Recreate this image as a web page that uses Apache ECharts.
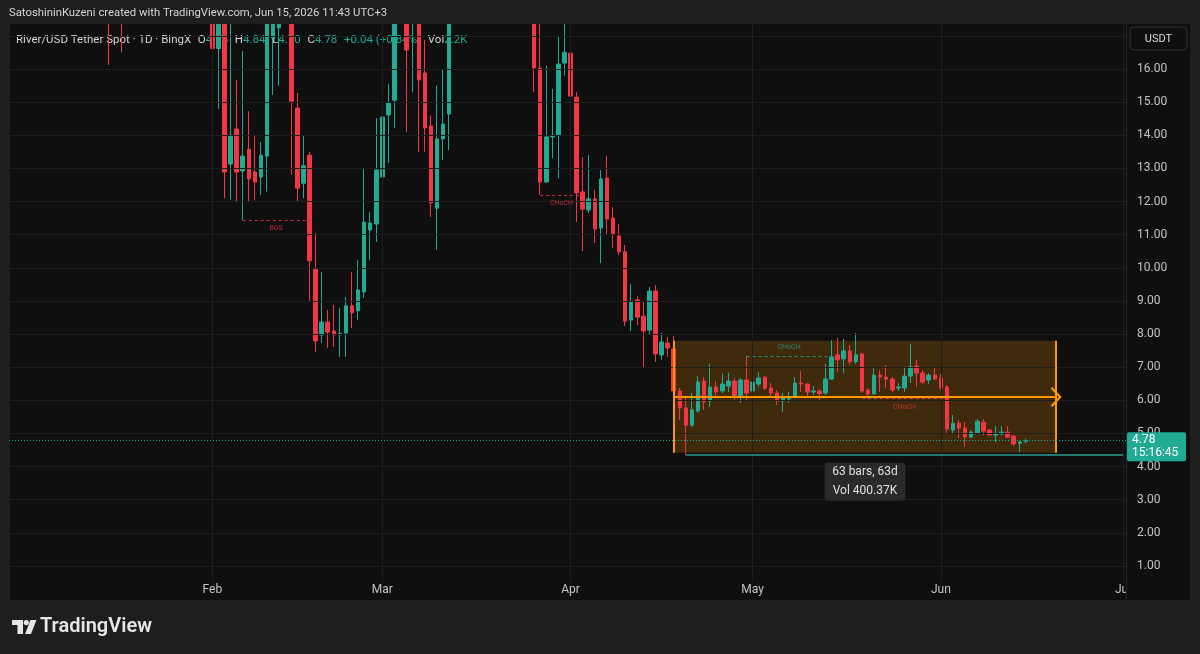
<!DOCTYPE html>
<html>
<head>
<meta charset="utf-8">
<title>River/USD Tether Spot · 1D · BingX</title>
<script src="https://cdn.jsdelivr.net/npm/echarts@6.0.0/dist/echarts.min.js"></script>
<style>
  html, body { margin: 0; padding: 0; background: #1e1e1e; }
  #chart { width: 1200px; height: 654px; }
</style>
</head>
<body>
<div id="chart"></div>
<script>
// time axis: one category per day
const axisStart = "2025-12-30";
const axisDays = 184;
const monthTicks = ["2026-02-01", "2026-03-01", "2026-04-01", "2026-05-01", "2026-06-01", "2026-07-01"];
const monthLabels = ["Feb", "Mar", "Apr", "May", "Jun", "Jul"];
const priceTicks = [1, 2, 3, 4, 5, 6, 7, 8, 9, 10, 11, 12, 13, 14, 15, 16, 17];

// daily candles from Jan 15; anything above ~17.4 is off the top of the view
const firstCandle = "2026-01-15";
const opens = [
  19.2, 18.4, 20.1, 18.9, 21.6, 22.8, 21.5, 20.3, 21.2, 22.4, 20.7, 19.5, 20.2, 19.1, 18.4, 19.0, 18.6,
  18.9, 16.62, 18.2, 13.13, 14.19, 12.92, 13.58, 12.89, 12.74, 13.37, 16.94, 17.24, 17.7, 18.5, 14.82, 12.55, 13.4, 9.96, 7.97, 8.36, 8.09, 7.98, 8.03, 8.85, 8.7, 9.27, 11.14, 11.32,
  12.74, 14.61, 15.06, 17.9, 18.6, 17.6, 18.1, 15.88, 14.28, 11.8, 13.89, 14.64, 17.7, 18.8, 20.1, 19.8, 19.0, 20.5, 21.7, 20.8, 21.1, 22.3, 21.6, 20.4, 19.3, 18.5, 16.03, 12.59, 13.95, 14.0, 16.18,
  16.48, 15.15, 12.29, 11.74, 12.08, 11.2, 12.71, 11.5, 10.96, 10.48, 8.42, 9.03, 8.54, 8.12, 9.3, 7.37, 7.73, 7.55, 6.28, 5.77, 5.25, 5.68, 6.58, 5.98, 6.4, 6.28, 6.43, 6.58, 6.13, 6.61,
  6.28, 6.49, 6.7, 6.37, 6.22, 5.98, 6.04, 6.1, 6.52, 6.49, 6.25, 6.28, 6.22, 6.64, 7.37, 7.25, 7.49, 7.16, 7.4, 6.31, 6.19, 6.76, 6.7, 6.64, 6.37, 6.37, 6.73, 7.04, 6.82, 6.61, 6.76,
  6.67, 6.4, 5.1, 5.31, 5.16, 4.89, 5.01, 5.34, 5.1, 4.95, 4.98, 5.04, 4.92, 4.7, 4.76
];
const highs = [
  20.5, 21.0, 20.8, 22.4, 23.5, 24.1, 22.9, 21.7, 23.0, 22.9, 21.4, 20.8, 20.9, 19.9, 19.6, 19.8, 19.3,
  19.4, 18.6, 18.5, 17.6, 15.67, 16.54, 14.73, 13.98, 13.8, 18.3, 18.4, 18.0, 18.9, 18.8, 15.28, 14.0, 13.5, 11.05, 9.87, 8.73, 8.88, 8.79, 9.12, 9.87, 10.23, 13.0, 11.68, 14.52,
  16.18, 15.55, 18.2, 19.1, 18.9, 18.5, 18.4, 16.88, 14.6, 15.5, 16.0, 18.0, 19.2, 20.6, 21.3, 20.4, 20.9, 22.2, 22.5, 21.6, 22.8, 23.1, 22.0, 20.9, 19.9, 18.9, 17.6, 16.1, 15.4, 17.0, 17.5,
  16.63, 15.3, 13.34, 13.4, 12.35, 12.95, 13.37, 11.83, 11.32, 10.69, 9.51, 9.15, 8.97, 9.42, 9.48, 8.03, 7.91, 7.94, 6.37, 6.1, 6.22, 6.73, 6.7, 7.1, 6.58, 6.8, 6.83, 6.67, 6.67, 7.34,
  6.85, 6.85, 6.72, 6.52, 6.31, 6.22, 6.25, 6.7, 6.88, 6.5, 6.43, 6.34, 7.1, 7.82, 7.88, 7.85, 7.67, 8.03, 7.43, 6.37, 6.97, 6.91, 7.07, 6.7, 6.52, 7.01, 7.7, 7.22, 6.91, 6.82, 6.97,
  6.79, 6.46, 5.56, 5.4, 5.34, 5.1, 5.43, 5.43, 5.13, 5.22, 5.22, 5.22, 4.95, 4.77, 4.84
];
const lows = [
  16.12, 17.6, 16.5, 18.2, 20.4, 21.0, 19.8, 19.1, 20.6, 20.2, 18.9, 18.6, 18.7, 17.9, 17.8, 18.0, 17.7,
  11.0, 14.8, 12.1, 12.05, 11.98, 11.44, 11.98, 12.05, 12.2, 12.3, 15.22, 15.5, 17.45, 12.8, 11.98, 12.1, 9.0, 7.46, 7.73, 7.58, 7.61, 7.31, 7.31, 8.18, 8.42, 9.09, 10.23, 10.78,
  12.2, 13.16, 14.22, 17.5, 14.1, 15.3, 13.5, 13.5, 11.53, 10.54, 13.25, 13.56, 17.5, 18.3, 19.4, 18.6, 18.7, 20.0, 20.3, 19.5, 20.7, 21.2, 19.9, 18.8, 17.9, 15.3, 12.2, 12.56, 13.3, 12.7, 15.8,
  14.1, 11.38, 10.5, 11.65, 10.75, 10.14, 10.99, 10.6, 10.38, 8.24, 8.09, 8.27, 7.0, 7.97, 7.16, 7.22, 7.31, 6.07, 5.4, 4.35, 5.2, 5.62, 5.71, 5.8, 6.1, 6.22, 6.25, 6.01, 5.92, 6.0,
  6.16, 6.4, 6.31, 6.07, 5.86, 5.65, 5.92, 6.07, 6.25, 6.07, 6.16, 6.0, 6.16, 6.61, 6.85, 6.82, 7.07, 7.1, 6.22, 6.13, 6.19, 6.25, 6.37, 6.25, 6.28, 6.25, 6.52, 6.4, 6.49, 6.49, 6.61,
  6.31, 5.01, 5.01, 4.86, 4.59, 4.86, 4.98, 4.95, 4.92, 4.74, 4.95, 4.86, 4.62, 4.44, 4.70
];
const closes = [
  18.4, 20.1, 18.9, 21.6, 22.8, 21.5, 20.3, 21.2, 22.4, 20.7, 19.5, 20.2, 19.1, 18.4, 19.0, 18.6, 18.9,
  16.62, 18.2, 12.89, 14.0, 12.89, 13.37, 12.68, 12.59, 13.4, 17.9, 17.8, 17.7, 18.5, 15.03, 12.4, 13.08, 10.21, 7.79, 8.36, 8.06, 7.97, 8.02, 8.85, 8.64, 9.33, 11.38, 11.35, 12.95,
  14.55, 14.97, 17.9, 18.6, 16.57, 18.1, 15.67, 14.22, 11.96, 13.89, 14.34, 17.7, 18.8, 20.1, 19.8, 19.0, 20.5, 21.7, 20.8, 21.1, 22.3, 21.6, 20.4, 19.3, 18.5, 16.03, 12.59, 13.95, 14.0, 16.15, 16.5,
  15.18, 12.26, 11.77, 12.08, 11.17, 12.68, 11.47, 11.02, 10.48, 8.39, 8.97, 8.51, 8.09, 9.3, 7.4, 7.76, 7.58, 6.28, 5.77, 5.25, 5.71, 6.55, 5.95, 6.4, 6.25, 6.49, 6.58, 6.13, 6.61, 6.22,
  6.55, 6.67, 6.37, 6.22, 5.98, 6.07, 6.1, 6.52, 6.49, 6.25, 6.28, 6.2, 6.64, 7.31, 7.22, 7.49, 7.16, 7.37, 6.28, 6.19, 6.76, 6.7, 6.64, 6.31, 6.4, 6.73, 7.01, 6.82, 6.55, 6.76, 6.64,
  6.37, 5.13, 5.31, 5.16, 4.89, 5.04, 5.37, 5.07, 4.95, 5.0, 5.04, 4.89, 4.68, 4.74, 4.78
];
const lastVolume = "2.2K";
const countdown = "15:16:45";

// structure marks (BOS / CHoCH)
const structLabels = ["BOS", "CHoCH", "CHoCH", "CHoCH"];
const structFrom = ["2026-02-06", "2026-03-27", "2026-04-30", "2026-05-19"];
const structTo = ["2026-02-17", "2026-04-03", "2026-05-14", "2026-06-02"];
const structPrice = [11.44, 12.2, 7.34, 6.06];
const structBull = [false, false, true, false];

// date & price range tool
const rangeFrom = "2026-04-18";
const rangeTo = "2026-06-20";
const rangeTop = 7.8;
const rangeBottom = 4.42;
const rangeMid = 6.1;
const rangeVolume = "400.37K";

// horizontal ray from the Apr 20 low
const supportFrom = "2026-04-20";
const supportPrice = 4.35;

const upColor = "#22ab94";
const downColor = "#f23645";
const rangeColor = "#ff9800";
const font = "Roboto, 'Noto Sans', sans-serif";

function dayOf(s) {
  return Math.round((Date.parse(s) - Date.parse(axisStart)) / 86400000);
}

let categories = [];
for (let i = 0; i < axisDays; i++) {
  categories.push(new Date(Date.parse(axisStart) + i * 86400000).toISOString().slice(0, 10));
}
const offset = dayOf(firstCandle);
const candles = categories.map(function (d, i) {
  const k = i - offset;
  if (k < 0 || k >= opens.length) return "-";
  return [opens[k], closes[k], lows[k], highs[k]];
});

let markLines = structLabels.map(function (name, n) {
  const col = structBull[n] ? upColor : downColor;
  return [
    {
      coord: [dayOf(structFrom[n]), structPrice[n]],
      lineStyle: { color: col, width: 1, type: [3, 3], opacity: 0.8 },
      label: {
        show: true, formatter: name, color: col, opacity: 0.75, fontSize: 7, fontFamily: font,
        position: structBull[n] ? "insideMiddleTop" : "insideMiddleBottom", distance: 5
      }
    },
    { coord: [dayOf(structTo[n]), structPrice[n]] }
  ];
});

const chevron = "path://M10,0 L20,9 L18.5,10.5 L10,2.8 L1.5,10.5 L0,9 Z";
markLines = markLines.concat([
  [
    { coord: [dayOf(rangeFrom), rangeTop], lineStyle: { color: rangeColor, width: 2, type: "solid" } },
    { coord: [dayOf(rangeFrom), rangeBottom] }
  ],
  [
    { coord: [dayOf(rangeTo), rangeTop], lineStyle: { color: rangeColor, width: 2, type: "solid" } },
    { coord: [dayOf(rangeTo), rangeBottom] }
  ],
  [
    { coord: [dayOf(rangeFrom), rangeMid], lineStyle: { color: rangeColor, width: 2, type: "solid" } },
    { coord: [dayOf(rangeTo), rangeMid], symbol: chevron, symbolSize: [20, 11] }
  ],
  [
    { coord: [dayOf(supportFrom), supportPrice], lineStyle: { color: "#2a9d8f", width: 1.5, type: "solid" } },
    { coord: [axisDays - 1, supportPrice] }
  ],
  {
    yAxis: closes[closes.length - 1],
    lineStyle: { color: upColor, width: 1, type: [1, 2] }
  }
]);

const chart = echarts.init(document.getElementById("chart"));

chart.setOption({
  backgroundColor: "#0f0f0f",
  animation: false,
  grid: { left: 9, right: 74, top: 24, bottom: 72 },
  xAxis: {
    type: "category",
    data: categories,
    boundaryGap: true,
    z: 0,
    axisLine: { show: false },
    axisTick: { show: false },
    splitLine: { show: false },
    axisLabel: {
      color: "#c4c4c4",
      fontSize: 12,
      fontFamily: font,
      margin: 2,
      interval: function (idx, val) { return monthTicks.indexOf(val) >= 0; },
      formatter: function (val) { return monthLabels[monthTicks.indexOf(val)]; }
    }
  },
  yAxis: {
    type: "value",
    position: "right",
    min: 0.515,
    max: 17.358,
    z: 5,
    axisLine: { show: false },
    axisTick: { show: false },
    splitLine: { show: false },
    axisLabel: {
      customValues: priceTicks,
      color: "#c4c4c4",
      fontSize: 12,
      fontFamily: font,
      margin: 11,
      padding: [7, 0, 0, 0],
      formatter: function (v) { return v.toFixed(2); }
    }
  },
  series: [
    {
      // grid lines only
      type: "line",
      data: [],
      z: 1,
      silent: true,
      markLine: {
        silent: true,
        symbol: ["none", "none"],
        label: { show: false },
        lineStyle: { color: "#1e1e1e", width: 1, type: "solid" },
        data: priceTicks.map(function (v) { return { yAxis: v }; })
          .concat(monthTicks.map(function (d) { return { xAxis: dayOf(d) }; }))
      }
    },
    {
      type: "candlestick",
      data: candles,
      z: 2,
      barWidth: 4,
      clip: true,
      itemStyle: {
        color: upColor,
        color0: downColor,
        borderColor: upColor,
        borderColor0: downColor,
        borderWidth: 1
      },
      markArea: {
        silent: true,
        itemStyle: { color: "rgba(255,152,0,0.2)" },
        data: [[{ coord: [dayOf(rangeFrom), rangeTop] }, { coord: [dayOf(rangeTo), rangeBottom] }]]
      },
      markLine: {
        silent: true,
        symbol: ["none", "none"],
        label: { show: false },
        data: markLines
      }
    }
  ]
});

// overlays placed through the chart's own scales
function px(day, price) {
  return chart.convertToPixel({ xAxisIndex: 0, yAxisIndex: 0 }, [day, price]);
}
const last = opens.length - 1;
const chg = closes[last] - closes[last - 1];
const pct = chg / closes[last - 1] * 100;
const sgn = chg >= 0 ? "+" : "";
const lastPx = px(0, closes[last]);
const rangeA = px(dayOf(rangeFrom), rangeBottom);
const rangeB = px(dayOf(rangeTo), rangeBottom);
const rangeCx = (rangeA[0] + rangeB[0]) / 2;
const barsCount = dayOf(rangeTo) - dayOf(rangeFrom);

chart.setOption({
  graphic: [
    // outer frame; the top strip also hides candle parts above the pane
    { id: "top", type: "rect", z: 10, shape: { x: 0, y: 0, width: 1200, height: 24 }, style: { fill: "#1e1e1e" } },
    { id: "bottom", type: "rect", z: 0, shape: { x: 0, y: 600, width: 1200, height: 54 }, style: { fill: "#1e1e1e" } },
    { id: "left", type: "rect", z: 0, shape: { x: 0, y: 0, width: 10, height: 654 }, style: { fill: "#1e1e1e" } },
    { id: "right", type: "rect", z: 0, shape: { x: 1190, y: 0, width: 10, height: 654 }, style: { fill: "#1e1e1e" } },
    { id: "axisPanel", type: "rect", z: 1, shape: { x: 1126, y: 24, width: 64, height: 576 }, style: { fill: "#0f0f0f" } },
    { id: "axisSep", type: "line", z: 1, shape: { x1: 1126.5, y1: 24, x2: 1126.5, y2: 600 }, style: { stroke: "#262626", lineWidth: 1 } },
    {
      id: "credit", type: "text", z: 11, x: 9, y: 13,
      style: {
        text: "SatoshininKuzeni created with TradingView.com, Jun 15, 2026 11:43 UTC+3",
        fill: "#d6d6d6", font: "11.3px " + font, verticalAlign: "middle"
      }
    },
    {
      id: "legend", type: "text", z: 0, x: 16, y: 40,
      style: {
        text: "{t|River/USD Tether Spot · 1D · BingX}  {k|O}{v|" + opens[last].toFixed(2) + "}  {k|H}{v|" + highs[last].toFixed(2) +
          "}  {k|L}{v|" + lows[last].toFixed(2) + "}  {k|C}{v|" + closes[last].toFixed(2) + "}  {v|" + sgn + chg.toFixed(2) +
          " (" + sgn + pct.toFixed(2) + "%)}  {k|Vol}{v|" + lastVolume + "}",
        verticalAlign: "middle",
        rich: {
          t: { fill: "#d6d6d6", font: "11.5px " + font },
          k: { fill: "#d6d6d6", font: "11.5px " + font },
          v: { fill: upColor, font: "11.5px " + font }
        }
      }
    },
    { id: "usdtBox", type: "rect", z: 10, shape: { x: 1130, y: 27, width: 57, height: 23, r: 4 }, style: { fill: "#0f0f0f", stroke: "#333333", lineWidth: 1 } },
    { id: "usdt", type: "text", z: 11, x: 1158.5, y: 39, style: { text: "USDT", fill: "#dcdcdc", font: "11px " + font, align: "center", verticalAlign: "middle" } },
    { id: "priceBox", type: "rect", z: 10, shape: { x: 1127, y: lastPx[1] - 8.5, width: 59, height: 29, r: 2 }, style: { fill: upColor } },
    {
      id: "priceTxt", type: "text", z: 11, x: 1132, y: lastPx[1] + 6,
      style: {
        text: closes[last].toFixed(2) + "\n" + countdown, fill: "#ffffff", font: "12px " + font,
        lineHeight: 13, verticalAlign: "middle"
      }
    },
    { id: "rangeBox", type: "rect", z: 10, shape: { x: rangeCx - 40.5, y: rangeA[1] + 10, width: 81, height: 38, r: 4 }, style: { fill: "#2a2a2a" } },
    {
      id: "rangeTxt", type: "text", z: 11, x: rangeCx, y: rangeA[1] + 29,
      style: {
        text: barsCount + " bars, " + barsCount + "d\nVol " + rangeVolume, fill: "#e0e0e0", font: "12px " + font,
        lineHeight: 19, align: "center", verticalAlign: "middle"
      }
    },
    // TradingView logo
    { id: "logoT", type: "polygon", z: 1, shape: { points: [[12, 620], [23, 620], [23, 634], [17.5, 634], [17.5, 625], [12, 625]] }, style: { fill: "#e6e6e6" } },
    { id: "logoDot", type: "circle", z: 1, shape: { cx: 26.3, cy: 622.6, r: 2.6 }, style: { fill: "#e6e6e6" } },
    { id: "logoV", type: "polygon", z: 1, shape: { points: [[30.5, 620], [36.5, 620], [31, 634], [25, 634]] }, style: { fill: "#e6e6e6" } },
    { id: "brand", type: "text", z: 1, x: 40, y: 627, style: { text: "TradingView", fill: "#e6e6e6", font: "600 20px " + font, verticalAlign: "middle" } }
  ]
});
</script>
</body>
</html>
